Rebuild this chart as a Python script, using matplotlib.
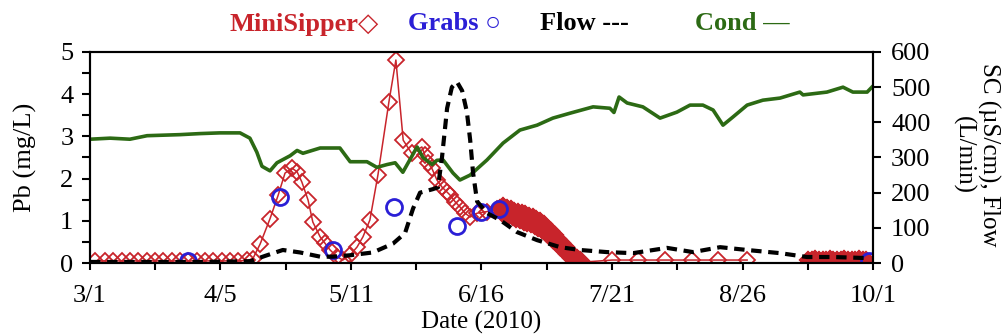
import numpy as np
import matplotlib
matplotlib.use("Agg")
import matplotlib.pyplot as plt
from matplotlib.ticker import MultipleLocator, FixedLocator, NullFormatter

# Días contados desde el 1 de marzo de 2010
# MiniSipper: Pb (mg/L)
ms_dias = [1.4, 4.1, 6.3, 8.7, 10.9, 13.1, 15.6, 17.8, 20.0, 22.4, 24.6, 26.8, 29.2, 31.4,
           33.6, 36.1, 38.3, 40.4, 42.9, 44.5,
           46.5, 49.2, 51.4, 53.3, 55.2, 56.6, 57.9, 59.6, 60.9, 62.9, 64.2, 65.6, 67.5, 69.1,
           71.1, 73.0, 74.6, 76.5, 78.7, 81.7, 83.6, 85.6, 87.9, 90.7, 91.5, 92.3, 93.4, 94.8,
           96.2, 97.6, 98.4, 99.8, 101.1, 102.5, 103.9, 105.8, 108.6, 111.3]
ms_pb = [0.05, 0.05, 0.05, 0.05, 0.05, 0.05, 0.05, 0.05, 0.05, 0.05, 0.05, 0.05, 0.05, 0.05,
         0.05, 0.05, 0.05, 0.05, 0.06, 0.10,
         0.45, 1.05, 1.60, 2.13, 2.25, 2.16, 1.92, 1.49, 0.97, 0.62, 0.47, 0.31, 0.15, 0.07,
         0.19, 0.38, 0.62, 1.02, 2.09, 3.82, 4.81, 2.91, 2.60, 2.75, 2.56, 2.37, 2.25, 1.97,
         1.80, 1.68, 1.61, 1.45, 1.33, 1.18, 1.09, 1.18, 1.22, 1.28]

# Muestreo denso de junio-julio (cada 12 h)
ms_denso1_dias = [112.0, 112.5, 113.0, 113.5, 114.0, 114.5, 115.0, 115.5, 116.0, 116.5,
                  117.0, 117.5, 118.0, 118.5, 119.0, 119.5, 120.0, 120.5, 121.0, 121.5,
                  122.0, 122.5, 123.0, 123.5, 124.0, 124.5, 125.0, 125.5, 126.0, 126.5,
                  127.0, 127.5, 128.0, 128.5, 129.0, 129.5, 130.0, 130.5, 131.0, 131.5,
                  132.0, 132.5, 133.0, 133.5, 134.0, 134.5]
ms_denso1_pb = [1.30, 1.18, 1.35, 1.15, 1.30, 1.12, 1.27, 1.08, 1.24, 1.05,
                1.22, 1.02, 1.18, 0.98, 1.15, 0.95, 1.12, 0.92, 1.08, 0.88,
                1.04, 0.84, 0.99, 0.78, 0.92, 0.72, 0.84, 0.63, 0.76, 0.55,
                0.66, 0.47, 0.57, 0.38, 0.48, 0.30, 0.38, 0.21, 0.29, 0.13,
                0.20, 0.06, 0.12, 0.03, 0.08, 0.02]

# Muestras semanales de verano
ms_verano_dias = [142.7, 149.8, 157.1, 164.5, 171.6, 179.6]
ms_verano_pb = [0.07, 0.07, 0.07, 0.07, 0.07, 0.07]

# Muestreo denso de septiembre
ms_denso2_dias = [196.2, 196.7, 197.2, 197.7, 198.2, 198.7, 199.2, 199.7, 200.2, 200.7,
                  201.2, 201.7, 202.2, 202.7, 203.2, 203.7, 204.2, 204.7, 205.2, 205.7,
                  206.2, 206.7, 207.2, 207.7, 208.2, 208.7, 209.2, 209.7, 210.2, 210.7,
                  211.2, 211.7, 212.2, 212.6]
ms_denso2_pb = [0.08, 0.02, 0.07, 0.01, 0.09, 0.03, 0.06, 0.00, 0.08, 0.02,
                0.07, 0.01, 0.09, 0.03, 0.06, 0.01, 0.08, 0.02, 0.07, 0.00,
                0.09, 0.03, 0.06, 0.01, 0.08, 0.02, 0.07, 0.01, 0.09, 0.03,
                0.06, 0.01, 0.08, 0.03]

# Grabs: Pb (mg/L)
grab_dias = [26.8, 51.9, 66.4, 83.1, 100.3, 106.9, 111.8, 212.9]
grab_pb = [0.05, 1.57, 0.30, 1.33, 0.87, 1.20, 1.27, 0.05]

# Caudal (L/min)
flow_dias = [0.0, 30.1, 43.7, 47.8, 52.7, 57.4, 62.9, 66.4, 71.1, 77.3, 82.8, 86.1, 88.3,
             90.2, 93.7, 95.1, 96.2, 97.6, 98.9, 100.3, 101.7, 103.0, 103.9, 104.7, 105.8,
             108.5, 112.1, 116.7, 122.2, 128.5, 133.9, 141.3, 148.4, 157.7, 164.8, 172.2,
             179.6, 188.6, 196.0, 203.1, 212.4]
flow = [3, 3, 5, 20, 37, 30, 18, 18, 22, 30, 55, 85, 155,
        200, 210, 215, 300, 440, 500, 515, 490, 430, 350, 256, 175,
        142, 122, 88, 65, 45, 37, 31, 28, 43, 31, 45,
        37, 28, 17, 17, 14]

# Conductividad (uS/cm)
cond_dias = [0.0, 5.5, 10.9, 15.6, 24.6, 30.1, 35.5, 41.0, 43.7, 45.6, 47.0, 49.2, 51.1,
             54.7, 56.6, 58.2, 62.9, 68.3, 71.1, 75.7, 78.4, 81.2, 83.4, 85.5, 87.5, 89.4,
             91.0, 93.5, 94.8, 96.5, 99.2, 101.1, 103.9, 108.5, 112.9, 117.5, 122.2, 126.5,
             131.2, 137.5, 142.1, 143.2, 144.6, 146.8, 151.1, 155.8, 160.4, 164.0, 167.5,
             170.3, 173.0, 175.7, 179.6, 183.9, 188.6, 194.0, 194.9, 201.4, 205.8, 208.5,
             212.4, 213.7]
cond = [352, 355, 352, 362, 365, 368, 370, 370, 355, 315, 275, 262, 285,
        305, 320, 312, 327, 327, 288, 288, 272, 280, 285, 258, 295, 330,
        300, 280, 292, 293, 256, 236, 250, 293, 341, 378, 392, 412,
        426, 444, 440, 428, 472, 455, 444, 412, 429, 449, 449,
        435, 392, 415, 449, 463, 469, 486, 478, 486, 500, 486,
        486, 500]

tick_labels = ["3/1", "4/5", "5/11", "6/16", "7/21", "8/26", "10/1"]

ROJO = "#c8242b"
AZUL = "#2b1fd6"
VERDE = "#2c6a14"

plt.rcParams["font.family"] = ["Liberation Serif", "DejaVu Sans"]
plt.rcParams["font.size"] = 19

fig = plt.figure(figsize=(10.02, 3.34), dpi=100)
ax = fig.add_axes([90 / 1002, 71 / 334, 783 / 1002, 211 / 334])
ax2 = ax.twinx()

# MiniSipper: tramos conectados, con hueco entre agosto y septiembre
x_ms = ms_dias + ms_denso1_dias + ms_verano_dias + [np.nan] + ms_denso2_dias
y_ms = ms_pb + ms_denso1_pb + ms_verano_pb + [np.nan] + ms_denso2_pb
ax.plot(x_ms, y_ms, color=ROJO, lw=1.1, marker="D", ms=8.5, mfc="none",
        mec=ROJO, mew=1.3, zorder=2)
# los tramos densos se ven como una banda continua
ax.plot(ms_denso1_dias, ms_denso1_pb, ls="none", marker="D", ms=8.5, mfc=ROJO,
        mec=ROJO, mew=1.5, zorder=2)
ax.plot(ms_denso2_dias, ms_denso2_pb, ls="none", marker="D", ms=8.5, mfc=ROJO,
        mec=ROJO, mew=1.5, zorder=2)
ax.plot(grab_dias, grab_pb, ls="none", marker="o", ms=11.5, mfc="none",
        mec=AZUL, mew=2.0, zorder=3)

ax2.plot(cond_dias, cond, color=VERDE, lw=2.6, zorder=2)
ax2.plot(flow_dias, flow, color="black", lw=3.0, ls=(0, (2.5, 1.6)), zorder=3)

total = 214
ax.set_xlim(0, total)
ax.set_ylim(0, 5)
ax2.set_ylim(0, 600)

ax.xaxis.set_major_locator(FixedLocator([total * k / 6 for k in range(7)]))
ax.xaxis.set_minor_locator(FixedLocator([total * (2 * k + 1) / 12 for k in range(6)]))
ax.set_xticklabels(tick_labels)
ax.xaxis.set_minor_formatter(NullFormatter())

ax.yaxis.set_major_locator(MultipleLocator(1))
ax.yaxis.set_minor_locator(MultipleLocator(0.5))
ax2.yaxis.set_major_locator(MultipleLocator(100))

for a in (ax, ax2):
    for s in a.spines.values():
        s.set_linewidth(1.5)
ax.tick_params(axis="x", which="both", direction="out", length=5, width=1.5, pad=11)
ax.tick_params(axis="y", which="major", direction="out", length=6, width=1.5, pad=6)
ax.tick_params(axis="y", which="minor", direction="out", length=6, width=1.5)
ax2.tick_params(axis="y", which="major", direction="out", length=6, width=1.5, pad=7)

ax.set_ylabel("Pb (mg/L)", fontsize=19)
ax.yaxis.set_label_coords(-0.068, 0.5)
ax.set_xlabel("Date (2010)", fontsize=18)
ax.xaxis.set_label_coords(0.5, -0.225)

fig.text(976 / 1002, 1 - 155 / 334, "SC (\u00b5S/cm), Flow\n(L/min)", fontsize=18,
         rotation=270, ha="center", va="center", multialignment="center",
         linespacing=1.15)

# Leyenda como texto sobre el gráfico
fy = 1 - 24 / 334
fig.text(230 / 1002, fy, "MiniSipper\u25c7", color=ROJO, fontsize=19, fontweight="bold",
         va="center", ha="left")
fig.text(408 / 1002, fy, "Grabs \u25cb", color=AZUL, fontsize=19, fontweight="bold",
         va="center", ha="left")
fig.text(540 / 1002, fy, "Flow ---", color="black", fontsize=19, fontweight="bold",
         va="center", ha="left")
fig.text(695 / 1002, fy, "Cond \u2014", color=VERDE, fontsize=19, fontweight="bold",
         va="center", ha="left")

fig.savefig("out.png", dpi=100)
